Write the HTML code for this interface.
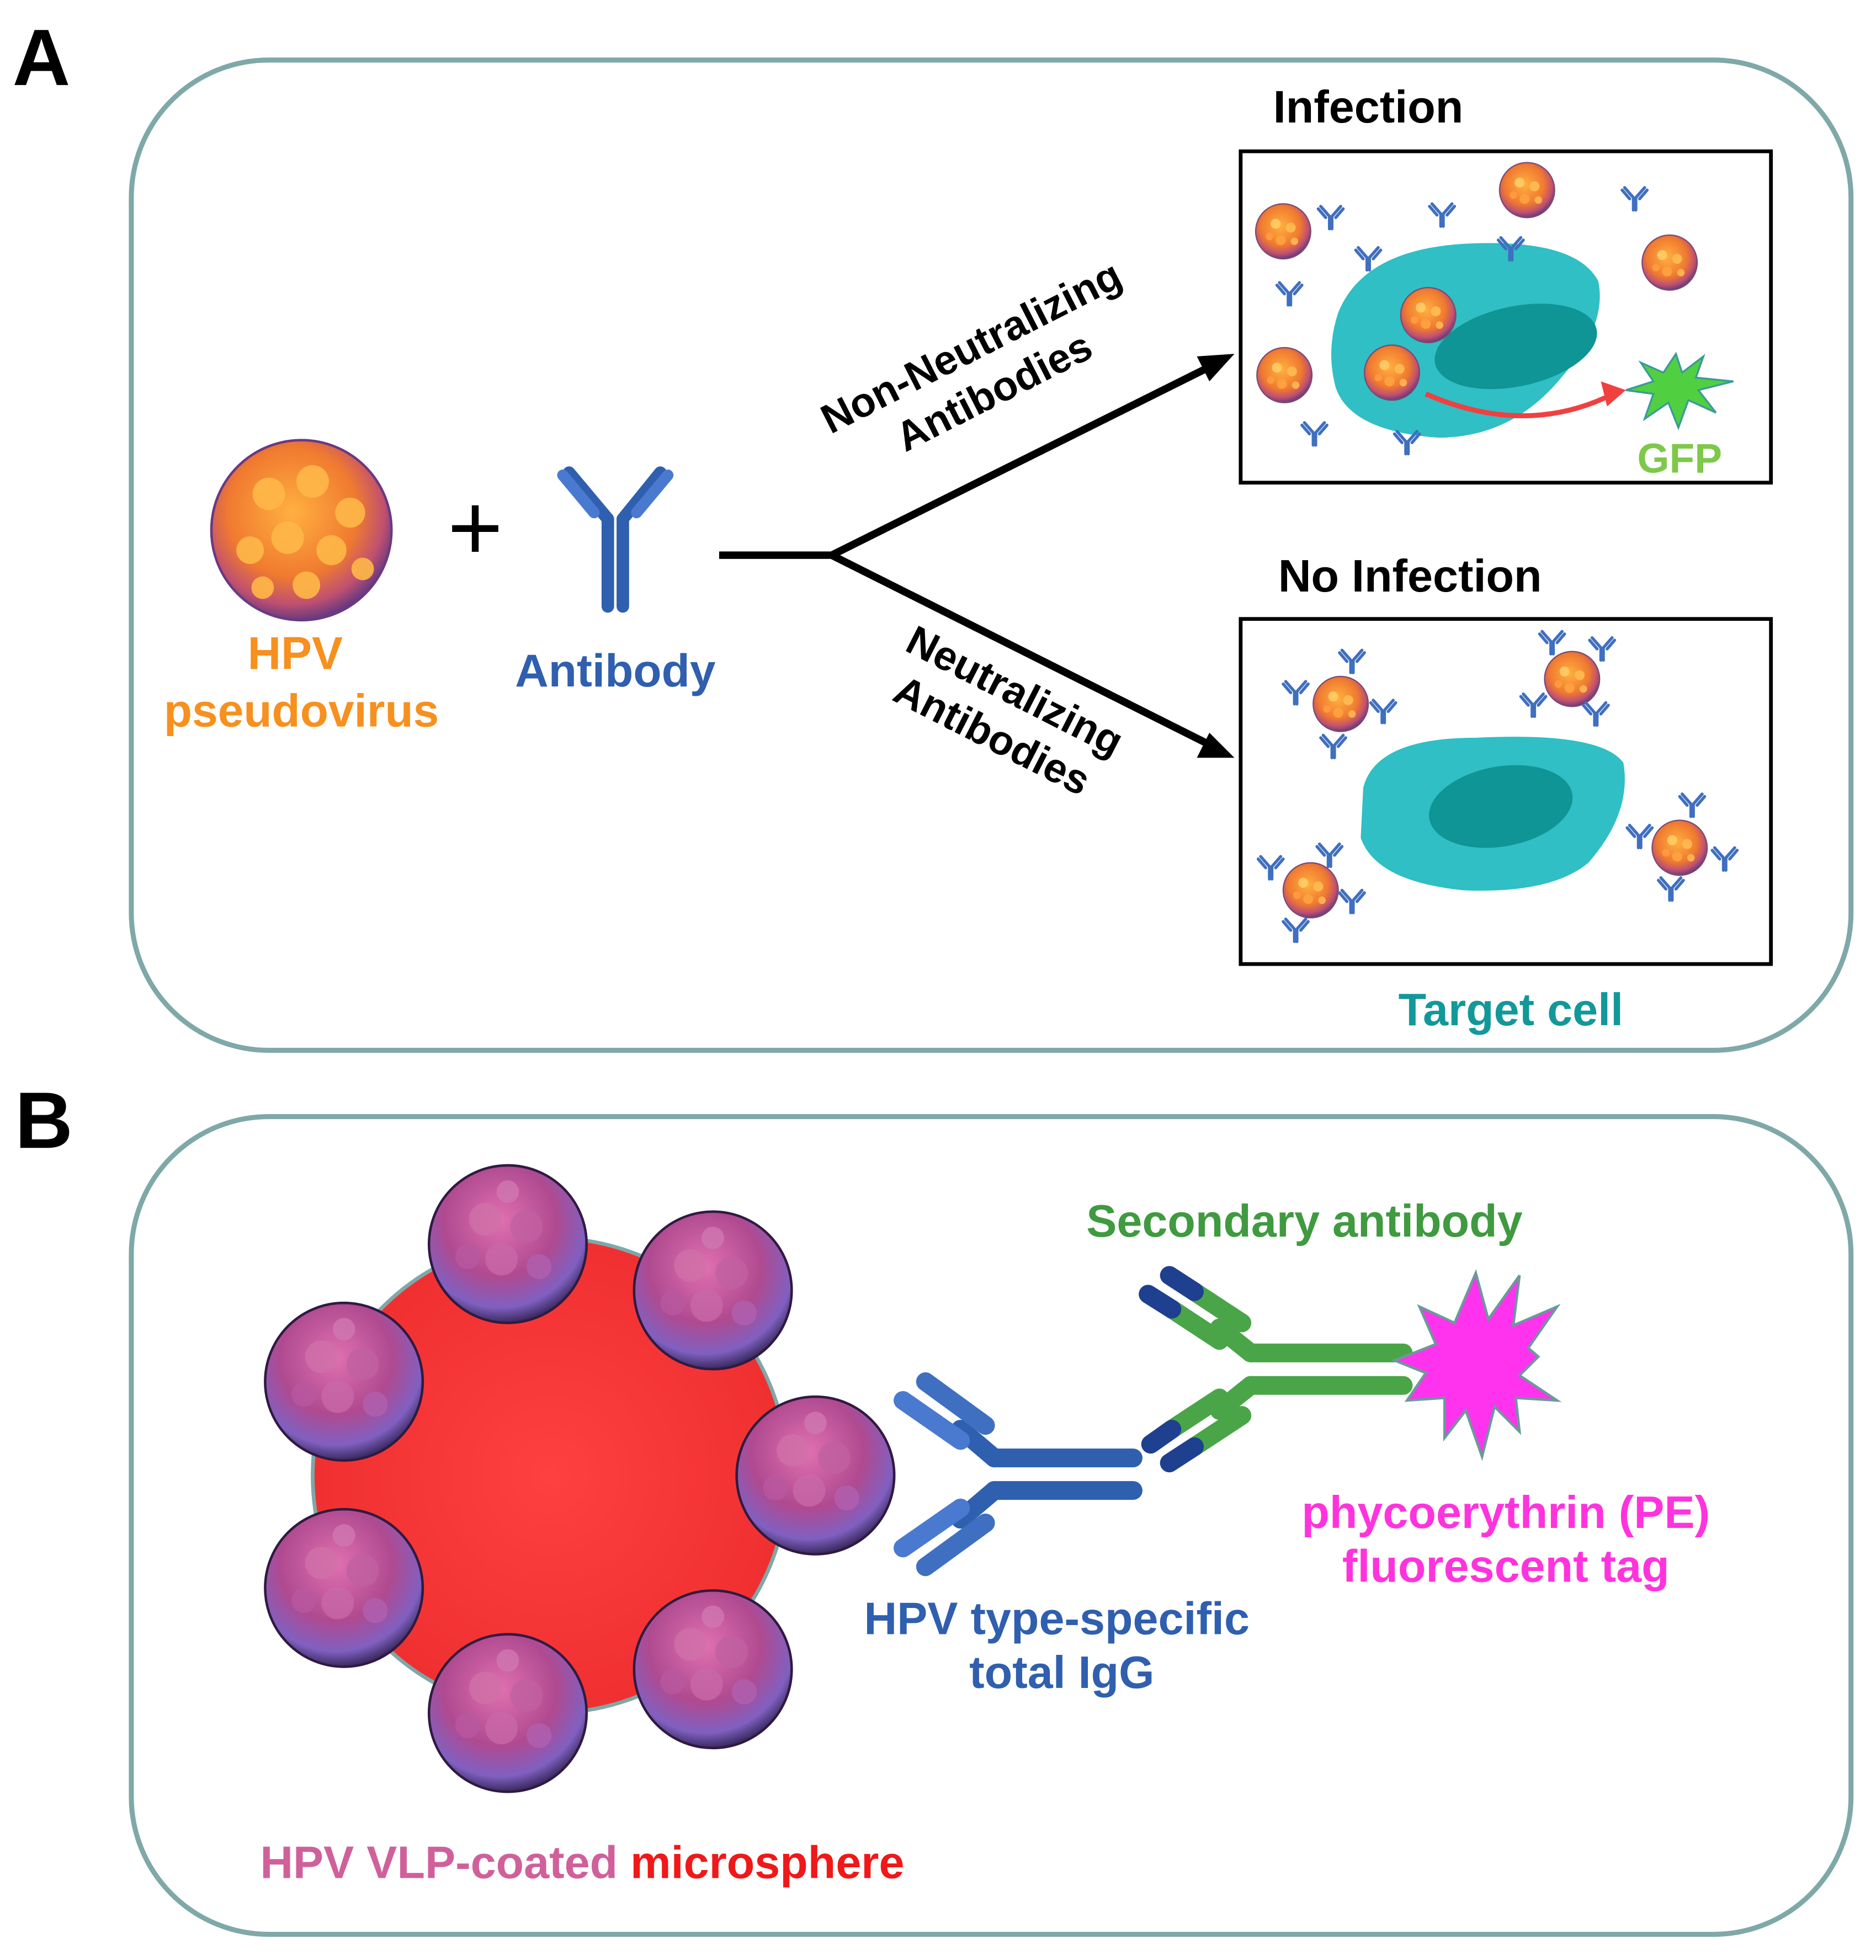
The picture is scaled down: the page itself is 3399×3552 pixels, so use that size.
<!DOCTYPE html>
<html><head><meta charset="utf-8"><style>
html,body{margin:0;padding:0;background:#fff}
svg{display:block}
text{font-family:"Liberation Sans",Arial,sans-serif;font-weight:bold}
</style></head><body>
<svg width="3399" height="3552" viewBox="0 0 1500 1567.5" xmlns="http://www.w3.org/2000/svg">
<defs>
<radialGradient id="hpv" cx="45%" cy="40%" r="60%">
<stop offset="0" stop-color="#ffb040"/><stop offset="0.6" stop-color="#f07a30"/><stop offset="0.85" stop-color="#c05070"/><stop offset="1" stop-color="#6a3a80"/></radialGradient>
<radialGradient id="vlp" cx="45%" cy="35%" r="65%">
<stop offset="0" stop-color="#e070b0"/><stop offset="0.55" stop-color="#b04a90"/><stop offset="0.85" stop-color="#8060c0"/><stop offset="1" stop-color="#3a2a60"/></radialGradient>
<radialGradient id="red" cx="50%" cy="50%" r="50%"><stop offset="0" stop-color="#ff4040"/><stop offset="1" stop-color="#f03030"/></radialGradient>
<g id="ab" stroke="#3f6fbf" stroke-width="2.4" stroke-linecap="round" fill="none">
<path d="M0 8 V-2 M2 8 V-2 M0 -2 L-7 -10 M2 -2 L9 -10 M-3 -1 L-9 -8 M5 -1 L11 -8"/></g>
<g id="v"><circle r="22" fill="url(#hpv)"/><circle r="22" fill="none" stroke="#7a4a70" stroke-width="1"/>
<circle cx="-6" cy="-6" r="4" fill="#ffc860"/><circle cx="6" cy="-3" r="4" fill="#ffb850"/><circle cx="-2" cy="7" r="4" fill="#ffa040"/><circle cx="9" cy="8" r="3" fill="#ffb050"/><circle cx="-11" cy="4" r="3" fill="#ff9a40"/></g>
<g id="vl"><circle r="63" fill="url(#vlp)"/><circle r="63" fill="none" stroke="#301a40" stroke-width="2"/>
<circle cx="-18" cy="-20" r="13" fill="#d070a8" opacity=".8"/><circle cx="15" cy="-14" r="13" fill="#c060a0" opacity=".8"/><circle cx="-5" cy="12" r="13" fill="#c868a8" opacity=".8"/><circle cx="25" cy="18" r="10" fill="#b060b0" opacity=".8"/><circle cx="-32" cy="10" r="10" fill="#b858a0" opacity=".8"/><circle cx="0" cy="-42" r="9" fill="#d078b0" opacity=".8"/></g>
</defs>

<text x="10" y="68" font-size="64">A</text>
<rect x="105" y="48" width="1375" height="792" rx="110" fill="none" stroke="#7fa8a8" stroke-width="4"/>

<circle cx="241" cy="424" r="72" fill="url(#hpv)" stroke="#6a3a80" stroke-width="2"/>
<g fill="#ffb848" opacity=".9">
<circle cx="215" cy="395" r="13"/><circle cx="250" cy="385" r="13"/><circle cx="280" cy="410" r="12"/><circle cx="230" cy="430" r="13"/><circle cx="265" cy="440" r="12"/><circle cx="200" cy="440" r="11"/><circle cx="245" cy="468" r="11"/><circle cx="210" cy="470" r="9"/><circle cx="290" cy="455" r="9"/></g>
<text x="236" y="535" font-size="37" fill="#f7901e" text-anchor="middle">HPV</text>
<text x="241" y="581" font-size="37" fill="#f7901e" text-anchor="middle">pseudovirus</text>
<text x="380" y="448" font-size="76" text-anchor="middle" style="font-weight:normal">+</text>

<g stroke-linecap="round" fill="none">
<path d="M486 485 V415 M498 485 V415" stroke="#2f5faf" stroke-width="10"/>
<path d="M486 415 L455 378 M498 415 L528 378" stroke="#2f5faf" stroke-width="10"/>
<path d="M475 410 L450 380 M509 410 L534 380" stroke="#4a7acf" stroke-width="9"/>
</g>
<text x="492" y="549" font-size="37" fill="#2f5fae" text-anchor="middle">Antibody</text>

<path d="M575 444 H665 L970 292 M665 444 L970 597" stroke="#000" stroke-width="6" fill="none"/>
<polygon points="987,283 957,285 967,305" fill="#000"/>
<polygon points="987,606 967,586 957,606" fill="#000"/>
<g transform="translate(788,300) rotate(-27)"><text font-size="33" text-anchor="middle" y="-14">Non-Neutralizing</text><text font-size="33" text-anchor="middle" y="26">Antibodies</text></g>
<g transform="translate(800,575) rotate(27)"><text font-size="33" text-anchor="middle" y="-14">Neutralizing</text><text font-size="33" text-anchor="middle" y="26">Antibodies</text></g>

<text x="1018" y="98" font-size="36.5">Infection</text>
<rect x="992" y="121" width="424" height="265" fill="none" stroke="#000" stroke-width="3"/>
<path d="M1070 250 Q1090 200 1170 195 Q1260 190 1278 225 Q1285 260 1250 300 Q1210 350 1150 350 Q1080 345 1068 310 Q1060 280 1070 250Z" fill="#2fbfc4"/>
<ellipse cx="1212" cy="277" rx="66" ry="32" transform="rotate(-12 1212 277)" fill="#0f9595"/>
<path d="M1140 315 Q1220 350 1290 315" stroke="#f04040" stroke-width="4" fill="none"/>
<polygon points="1300,312 1280,305 1285,325" fill="#f04040"/>
<polygon points="1340,283 1345,298 1362,285 1356,302 1386,305 1358,312 1372,330 1350,320 1342,342 1334,322 1315,335 1322,315 1300,312 1322,305 1312,290 1330,298" fill="#50d040" stroke="#3a9a9a" stroke-width="1.5"/>
<text x="1343" y="378" font-size="33" fill="#7ec84a" text-anchor="middle">GFP</text>
<use href="#v" x="1026" y="185"/><use href="#v" x="1221" y="152"/><use href="#v" x="1335" y="210"/><use href="#v" x="1142" y="252"/><use href="#v" x="1027" y="300"/><use href="#v" x="1113" y="298"/>
<use href="#ab" x="1063" y="175"/><use href="#ab" x="1152" y="173"/><use href="#ab" x="1093" y="208"/><use href="#ab" x="1030" y="236"/><use href="#ab" x="1207" y="200"/><use href="#ab" x="1306" y="160"/><use href="#ab" x="1050" y="348"/><use href="#ab" x="1124" y="355"/>

<text x="1022" y="473" font-size="36.5">No Infection</text>
<rect x="992" y="495" width="424" height="276" fill="none" stroke="#000" stroke-width="3"/>
<path d="M1090 630 Q1100 590 1180 590 Q1280 585 1298 610 Q1305 650 1270 690 Q1240 715 1170 712 Q1100 705 1088 670Z" fill="#2fbfc4"/>
<ellipse cx="1200" cy="645" rx="58" ry="32" transform="rotate(-10 1200 645)" fill="#0f9595"/>
<use href="#v" x="1072" y="563"/><use href="#v" x="1257" y="543"/><use href="#v" x="1343" y="678"/><use href="#v" x="1048" y="712"/>
<use href="#ab" x="1080" y="530"/><use href="#ab" x="1035" y="555"/><use href="#ab" x="1105" y="570"/><use href="#ab" x="1065" y="598"/>
<use href="#ab" x="1240" y="515"/><use href="#ab" x="1280" y="520"/><use href="#ab" x="1225" y="565"/><use href="#ab" x="1275" y="572"/>
<use href="#ab" x="1352" y="645"/><use href="#ab" x="1310" y="670"/><use href="#ab" x="1378" y="688"/><use href="#ab" x="1335" y="712"/>
<use href="#ab" x="1015" y="695"/><use href="#ab" x="1062" y="685"/><use href="#ab" x="1080" y="722"/><use href="#ab" x="1035" y="745"/>
<text x="1208" y="820" font-size="36.5" fill="#13989a" text-anchor="middle">Target cell</text>

<text x="12" y="918" font-size="64">B</text>
<rect x="105" y="893" width="1375" height="654" rx="110" fill="none" stroke="#7fa8a8" stroke-width="4"/>
<circle cx="440" cy="1180" r="190" fill="url(#red)" stroke="#7fa8a8" stroke-width="3"/>
<use href="#vl" x="406" y="995"/><use href="#vl" x="570" y="1032"/><use href="#vl" x="275" y="1105"/><use href="#vl" x="652" y="1180"/><use href="#vl" x="275" y="1270"/><use href="#vl" x="406" y="1370"/><use href="#vl" x="570" y="1335"/>

<!-- Blue IgG -->
<g stroke-linecap="round" fill="none">
<path d="M795 1166 H906 M795 1192 H906" stroke="#2f5faf" stroke-width="15"/>
<path d="M795 1166 L768 1143 M795 1192 L768 1215" stroke="#2f5faf" stroke-width="15"/>
<path d="M788 1140 L740 1105 M788 1218 L740 1253" stroke="#3f6fc0" stroke-width="15"/>
<path d="M768 1152 L722 1120 M768 1206 L722 1238" stroke="#4a7acf" stroke-width="15"/>
</g>
<!-- Green secondary -->
<g stroke-linecap="round" fill="none">
<path d="M1000 1082 H1122 M1000 1108 H1122" stroke="#4aa548" stroke-width="15"/>
<path d="M1000 1082 L975 1062 M1000 1108 L975 1128" stroke="#4aa548" stroke-width="15"/>
<path d="M993 1058 L955 1033 M993 1132 L955 1157" stroke="#4aa548" stroke-width="15"/>
<path d="M975 1072 L937 1047 M975 1118 L937 1143" stroke="#4aa548" stroke-width="15"/>
<path d="M955 1033 L935 1020 M937 1047 L918 1035 M955 1157 L935 1170 M937 1143 L920 1155" stroke="#1f3f8f" stroke-width="15"/>
</g>
<polygon points="1180,1018 1190,1055 1215,1020 1210,1060 1245,1045 1222,1078 1230,1085 1215,1100 1245,1120 1212,1118 1215,1145 1195,1125 1185,1165 1172,1128 1155,1150 1155,1118 1125,1120 1140,1098 1115,1088 1148,1075 1135,1045 1163,1058" fill="#ff33ee" stroke="#6a9a9a" stroke-width="2"/>
<text x="1043" y="989" font-size="36.5" fill="#3f9a40" text-anchor="middle">Secondary antibody</text>
<text x="1204" y="1222" font-size="36.5" fill="#ff33dd" text-anchor="middle">phycoerythrin (PE)</text>
<text x="1204" y="1265" font-size="36.5" fill="#ff33dd" text-anchor="middle">fluorescent tag</text>
<text x="845" y="1307" font-size="36.5" fill="#2f5fae" text-anchor="middle">HPV type-specific</text>
<text x="849" y="1350" font-size="36.5" fill="#2f5fae" text-anchor="middle">total IgG</text>
<text x="208" y="1502" font-size="36.5"><tspan fill="#d0609a">HPV VLP-coated </tspan><tspan fill="#f01818">microsphere</tspan></text>
</svg>
</body></html>
